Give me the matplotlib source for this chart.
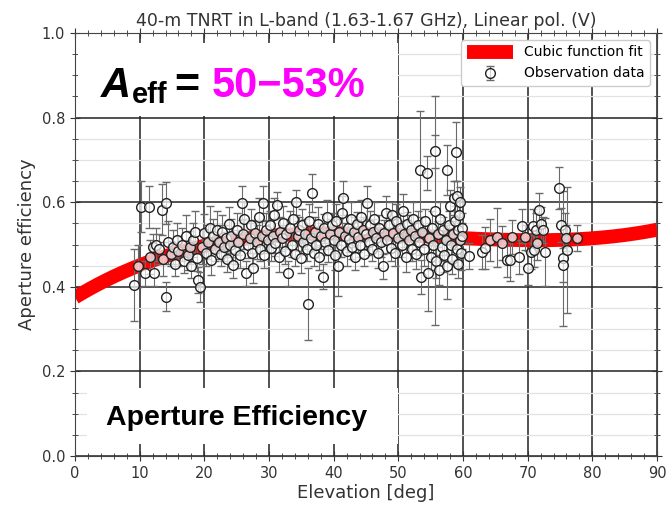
import numpy as np
import matplotlib.pyplot as plt
from matplotlib.patches import Rectangle

# cubic fit coefficients (highest power first), efficiency vs elevation [deg]
fit_coef = [1.0803e-6, -1.8056e-4, 9.277e-3, 0.375]

# observation data: elevation [deg], aperture efficiency, 1-sigma error
elev_low = [9.2, 9.7, 10.2, 10.8, 11.4, 11.6, 12.0, 12.2, 12.6, 13.0, 13.4, 13.6, 14.0, 14.0, 14.4, 14.8,
            15.2, 15.4, 15.8, 16.0, 16.5, 16.8, 17.2, 17.5, 17.8, 18.0, 18.3, 18.6, 18.8, 19.0, 19.3, 19.6,
            19.9, 20.2, 20.5, 20.8, 21.0, 21.3, 21.6, 21.9]
eff_low = [0.404, 0.449, 0.589, 0.432, 0.588, 0.470, 0.495, 0.432, 0.500, 0.490, 0.582, 0.465, 0.598, 0.377,
           0.505, 0.478, 0.495, 0.455, 0.510, 0.485, 0.500, 0.462, 0.520, 0.475, 0.493, 0.450, 0.510, 0.530,
           0.468, 0.416, 0.400, 0.495, 0.527, 0.480, 0.505, 0.540, 0.463, 0.520, 0.490, 0.535]
err_low = [0.085, 0.05, 0.06, 0.03, 0.05, 0.04, 0.03, 0.03, 0.04, 0.035, 0.06, 0.04, 0.05, 0.035, 0.05, 0.03,
           0.04, 0.03, 0.04, 0.035, 0.04, 0.03, 0.05, 0.035, 0.04, 0.03, 0.04, 0.05, 0.03, 0.03, 0.035, 0.04,
           0.045, 0.03, 0.04, 0.05, 0.035, 0.04, 0.03, 0.045]

elev_mid = [22.2, 22.5, 22.8, 23.0, 23.3, 23.5, 23.8, 24.0, 24.2, 24.5, 24.7, 25.0, 25.2, 25.5, 25.8, 26.0,
            26.2, 26.5, 26.7, 27.0, 27.2, 27.4, 27.6, 27.9, 28.1, 28.4, 28.6, 28.9, 29.1, 29.3, 29.6, 29.8,
            30.1, 30.3, 30.6, 30.8, 31.0, 31.2, 31.5, 31.7, 32.0, 32.2, 32.5, 32.7, 33.0, 33.2, 33.5, 33.7,
            34.0, 34.2, 34.5, 34.7, 34.9, 35.1, 35.3, 35.6, 35.8, 36.0, 36.2, 36.5, 36.7, 36.9, 37.1, 37.3,
            37.6, 37.8, 38.0, 38.3, 38.5, 38.7, 39.0, 39.2, 39.5, 39.7, 40.0, 40.2, 40.4, 40.6, 40.9, 41.1,
            41.3, 41.5, 41.7, 42.0, 42.2, 42.4, 42.7, 42.9, 43.1, 43.3, 43.6, 43.8, 44.0, 44.3, 44.5, 44.7,
            45.0, 45.1, 45.4, 45.6, 45.9, 46.1, 46.3, 46.6, 46.8, 47.0, 47.3, 47.6, 47.8]
eff_mid = [0.505, 0.478, 0.530, 0.495, 0.515, 0.465, 0.548, 0.500, 0.520, 0.451, 0.488, 0.535, 0.505, 0.475,
           0.599, 0.525, 0.560, 0.432, 0.498, 0.515, 0.545, 0.480, 0.444, 0.528, 0.505, 0.565, 0.490, 0.520,
           0.599, 0.475, 0.535, 0.510, 0.545, 0.492, 0.520, 0.570, 0.503, 0.593, 0.470, 0.530, 0.515, 0.550,
           0.485, 0.525, 0.432, 0.540, 0.500, 0.560, 0.478, 0.600, 0.520, 0.535, 0.468, 0.545, 0.505, 0.525,
           0.490, 0.359, 0.555, 0.515, 0.621, 0.480, 0.530, 0.500, 0.548, 0.470, 0.520, 0.424, 0.538, 0.505,
           0.565, 0.488, 0.525, 0.545, 0.510, 0.475, 0.555, 0.448, 0.530, 0.500, 0.575, 0.610, 0.520, 0.485,
           0.540, 0.512, 0.560, 0.495, 0.530, 0.470, 0.548, 0.518, 0.500, 0.565, 0.535, 0.478, 0.525, 0.598,
           0.505, 0.545, 0.490, 0.530, 0.560, 0.515, 0.480, 0.540, 0.505, 0.448, 0.528]
err_mid = [0.04, 0.03, 0.04, 0.035, 0.03, 0.03, 0.04, 0.03, 0.04, 0.03, 0.035, 0.04, 0.03, 0.03, 0.04, 0.035,
           0.04, 0.03, 0.03, 0.035, 0.04, 0.03, 0.035, 0.03, 0.04, 0.045, 0.03, 0.035, 0.04, 0.03, 0.04, 0.03,
           0.035, 0.03, 0.04, 0.04, 0.03, 0.03, 0.035, 0.035, 0.03, 0.04, 0.03, 0.035, 0.03, 0.04, 0.03, 0.04,
           0.03, 0.03, 0.035, 0.03, 0.035, 0.04, 0.03, 0.035, 0.03, 0.085, 0.04, 0.03, 0.045, 0.03, 0.035, 0.03,
           0.04, 0.03, 0.03, 0.03, 0.035, 0.03, 0.04, 0.03, 0.035, 0.03, 0.03, 0.035, 0.04, 0.07, 0.03, 0.03,
           0.04, 0.04, 0.03, 0.035, 0.03, 0.03, 0.04, 0.03, 0.035, 0.03, 0.03, 0.035, 0.03, 0.04, 0.03, 0.03,
           0.035, 0.04, 0.03, 0.035, 0.03, 0.03, 0.04, 0.03, 0.035, 0.03, 0.035, 0.03, 0.03]

elev_high = [48.1, 48.3, 48.5, 48.8, 49.0, 49.2, 49.5, 49.7, 50.0, 50.2, 50.5, 50.7, 50.9, 51.2, 51.4, 51.6,
             51.9, 52.1, 52.3, 52.6, 52.8, 53.0, 53.2, 53.4, 53.5, 53.7, 54.0, 54.2, 54.4, 54.6, 54.8, 55.0,
             55.2, 55.4, 55.6, 55.7, 55.9, 56.1, 56.3, 56.5, 56.7, 56.9, 57.1, 57.3, 57.5, 57.6, 57.8, 58.0,
             58.2, 58.3, 58.5, 58.6, 58.8, 58.9, 59.0, 59.1, 59.2, 59.3, 59.4, 59.5, 59.6, 59.7, 59.8, 59.9,
             61.0, 62.9, 63.4, 64.1, 65.2, 66.0, 66.8, 67.2, 67.5, 68.6, 69.1, 69.6, 70.1, 70.5, 70.8, 71.0,
             71.3, 71.5, 71.8, 72.1, 72.3, 72.7, 74.9, 75.1, 75.5, 75.5, 75.8, 76.0, 76.1, 77.7]
eff_high = [0.575, 0.510, 0.545, 0.492, 0.570, 0.528, 0.480, 0.555, 0.515, 0.540, 0.500, 0.580, 0.525, 0.470,
            0.548, 0.510, 0.535, 0.490, 0.560, 0.520, 0.478, 0.545, 0.505, 0.676, 0.423, 0.530, 0.490, 0.555,
            0.670, 0.432, 0.515, 0.470, 0.540, 0.500, 0.720, 0.580, 0.460, 0.525, 0.440, 0.560, 0.495, 0.535,
            0.475, 0.510, 0.676, 0.450, 0.545, 0.590, 0.500, 0.465, 0.525, 0.610, 0.555, 0.719, 0.490, 0.615,
            0.535, 0.455, 0.570, 0.510, 0.600, 0.480, 0.540, 0.520,
            0.473, 0.483, 0.491, 0.511, 0.517, 0.503, 0.463, 0.463, 0.517, 0.471, 0.544, 0.517, 0.444, 0.483,
            0.544, 0.487, 0.534, 0.503, 0.582, 0.548, 0.534, 0.483, 0.633, 0.546, 0.467, 0.452, 0.534, 0.515,
            0.487, 0.515]
err_high = [0.04, 0.03, 0.035, 0.03, 0.03, 0.035, 0.03, 0.04, 0.03, 0.035, 0.03, 0.04, 0.03, 0.035, 0.03, 0.03,
            0.035, 0.03, 0.04, 0.03, 0.035, 0.035, 0.03, 0.14, 0.04, 0.035, 0.04, 0.03, 0.04, 0.09, 0.035, 0.03,
            0.04, 0.035, 0.04, 0.27, 0.04, 0.03, 0.035, 0.04, 0.035, 0.03, 0.04, 0.035, 0.06, 0.08, 0.035, 0.04,
            0.04, 0.035, 0.03, 0.04, 0.035, 0.07, 0.04, 0.035, 0.03, 0.035, 0.04, 0.04, 0.035, 0.04, 0.035, 0.03,
            0.03, 0.04, 0.05, 0.05, 0.07, 0.04, 0.04, 0.05, 0.04, 0.04, 0.04, 0.03, 0.04, 0.04, 0.04, 0.04,
            0.04, 0.04, 0.04, 0.04, 0.03, 0.08, 0.05, 0.04, 0.16, 0.04, 0.04, 0.03, 0.15, 0.03]

elev = np.array(elev_low + elev_mid + elev_high)
eff = np.array(eff_low + eff_mid + eff_high)
err = np.array(err_low + err_mid + err_high)

W, H = 672, 505
fig = plt.figure(figsize=(W / 100, H / 100), dpi=100)
ax = fig.add_axes([75 / W, 1 - 456 / H, 582 / W, 423 / H])

txt = '#333333'

xx = np.linspace(0, 90, 300)
ax.plot(xx, np.polyval(fit_coef, xx), color='red', lw=10, solid_capstyle='butt',
        label='Cubic function fit', zorder=2)
ax.errorbar(elev, eff, yerr=err, fmt='o', ms=7, mfc=(1, 1, 1, 0.7), mec='#222222', mew=1.0,
            ecolor='#6a6a6a', elinewidth=0.8, capsize=3, capthick=0.9,
            label='Observation data', zorder=3)

ax.set_xlim(0, 90)
ax.set_ylim(0, 1.0)
ax.set_xticks(np.arange(0, 91, 10))
ax.set_yticks(np.arange(0, 1.01, 0.2))
ax.set_xticks(np.arange(0, 91, 2), minor=True)
ax.set_yticks(np.arange(0, 1.01, 0.05), minor=True)
ax.set_axisbelow(True)
ax.grid(which='major', color='#222222', lw=1.1)
ax.grid(which='minor', axis='y', color='#e2e2e2', lw=0.9)
ax.tick_params(which='both', direction='inout', top=True, right=True, colors=txt, labelsize=10.5)
ax.tick_params(which='major', length=7)
ax.tick_params(which='minor', length=4)
for s in ax.spines.values():
    s.set_color('#444444')

ax.set_title('40-m TNRT in L-band (1.63-1.67 GHz), Linear pol. (V)', fontsize=12.5, color=txt, pad=5)
ax.set_xlabel('Elevation [deg]', fontsize=13, color=txt, labelpad=2)
ax.set_ylabel('Aperture efficiency', fontsize=13, color=txt, labelpad=4)

leg = ax.legend(loc='upper right', fontsize=10, handlelength=3.3, framealpha=1,
                edgecolor='#cccccc', borderaxespad=0.5)
leg.set_zorder(5)

# white panels behind the annotations
ax.add_patch(Rectangle((0.5, 0.804), 49.4, 0.172, facecolor='white', edgecolor='none', zorder=1.5))
ax.add_patch(Rectangle((1.9, 0.028), 48.0, 0.133, facecolor='white', edgecolor='none', zorder=1.5))

bold = dict(family='Liberation Sans', weight='bold')
fig.text(101 / W, 1 - 97 / H, 'A', fontsize=30, style='italic', color='black', **bold)
fig.text(132 / W, 1 - 103 / H, 'eff', fontsize=21, color='black', **bold)
fig.text(174 / W, 1 - 97 / H, '=', fontsize=31, color='black', **bold)
fig.text(212 / W, 1 - 97 / H, '50\u221253%', fontsize=30, color='#ff00ff', **bold)
fig.text(106 / W, 1 - 425 / H, 'Aperture Efficiency', fontsize=20.5, color='black', **bold)

fig.savefig('out.png', dpi=100)
